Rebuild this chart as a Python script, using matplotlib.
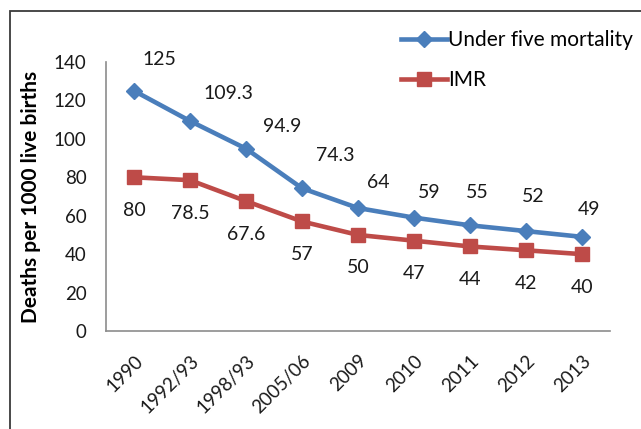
import matplotlib
matplotlib.use("Agg")
import matplotlib.pyplot as plt
from matplotlib.patches import Rectangle

plt.rcParams['font.family'] = ['Lato', 'DejaVu Sans']

periods = ['1990', '1992/93', '1998/93', '2005/06', '2009', '2010', '2011', '2012', '2013']
under5 = [125, 109.3, 94.9, 74.3, 64, 59, 55, 52, 49]
imr = [80, 78.5, 67.6, 57, 50, 47, 44, 42, 40]

# label offsets in pixels (dx, dy up)
u5_off = [(25, 31), (38, 27), (36, 22), (33, 33), (20, 26), (15, 25), (7, 33), (7, 35), (7, 27)]

W, H = 641, 429
fig = plt.figure(figsize=(W / 100, H / 100), dpi=100)
ax = fig.add_axes([106 / W, 1 - 331 / H, 504 / W, 269 / H])

# chart frame (cropped on the right and bottom)
fig.patches.append(Rectangle((10 / W, -0.1), 1.0, 1 - 11 / H + 0.1, transform=fig.transFigure,
                             fill=False, edgecolor='#3a3a3a', linewidth=1.3))

x = list(range(len(periods)))
blue, red = '#4a7ebb', '#be4b48'
ax.plot(x, under5, color=blue, lw=3.3, marker='D', ms=8.5, label='Under five mortality')
ax.plot(x, imr, color=red, lw=3.3, marker='s', ms=10.5, label='IMR')

for i, v in enumerate(under5):
    dx, dy = u5_off[i]
    ax.annotate(f'{v:g}', (i, v), xytext=(dx * 0.72, dy * 0.72), textcoords='offset points',
                ha='center', va='center', fontsize=14, color='#1a1a1a')
for i, v in enumerate(imr):
    ax.annotate(f'{v:g}', (i, v), xytext=(0, -33 * 0.72), textcoords='offset points',
                ha='center', va='center', fontsize=14, color='#1a1a1a')

ax.set_xlim(-0.5, len(periods) - 0.5)
ax.set_ylim(0, 140)
ax.set_yticks(range(0, 141, 20))
ax.set_xticks(x)
ax.set_xticklabels(periods, rotation=45, ha='right', va='top', rotation_mode='anchor')
ax.tick_params(length=0, labelsize=13.5, colors='#1a1a1a')
ax.tick_params(axis='x', pad=15)
ax.tick_params(axis='y', pad=14)
for s in ['top', 'right']:
    ax.spines[s].set_visible(False)
for s in ['left', 'bottom']:
    ax.spines[s].set_color('#8c8c8c')
    ax.spines[s].set_linewidth(1.2)

ax.set_ylabel('Deaths per 1000 live births', fontsize=15, fontweight='bold')
ax.yaxis.set_label_coords(-0.128, 0.5)

ax.legend(loc='upper left', bbox_to_anchor=(391 / W, 1 - 20 / H), bbox_transform=fig.transFigure,
          frameon=False, fontsize=15, handlelength=2.2, handletextpad=0.05, labelspacing=0.95,
          borderpad=0)

fig.savefig('out.png', dpi=100)
